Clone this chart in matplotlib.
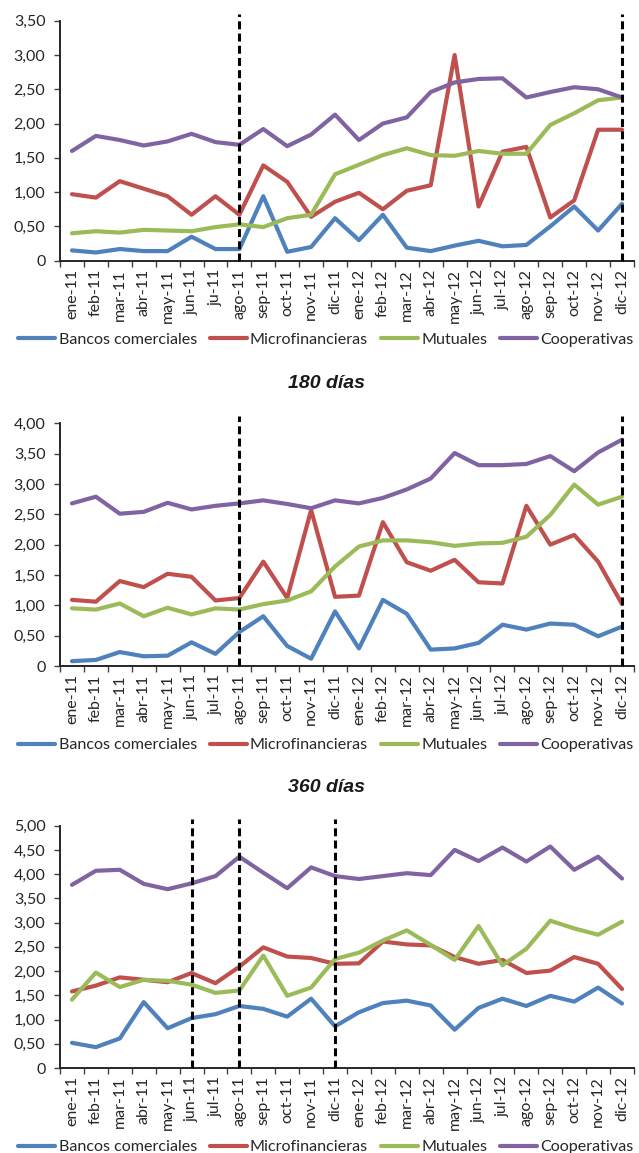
import matplotlib
matplotlib.use("Agg")
import matplotlib.pyplot as plt
import numpy as np
from matplotlib.ticker import FixedLocator, FuncFormatter

# ---------------- data ----------------
months = ['ene-11', 'feb-11', 'mar-11', 'abr-11', 'may-11', 'jun-11', 'jul-11',
          'ago-11', 'sep-11', 'oct-11', 'nov-11', 'dic-11', 'ene-12', 'feb-12',
          'mar-12', 'abr-12', 'may-12', 'jun-12', 'jul-12', 'ago-12', 'sep-12',
          'oct-12', 'nov-12', 'dic-12']
months_p1 = ['ene-11', 'feb-11', 'mar-11', 'abr-11', 'may-11', 'jun-11', 'ju-11',
             'ago-11', 'sep-11', 'oct-11', 'nov-11', 'dic-11', 'ene-12', 'feb-12',
             'mar-12', 'abr-12', 'may-12', 'jun-12', 'jul-12', 'ago-12', 'sep-12',
             'oct-12', 'nov-12', 'dic-12']
series_names = ['Bancos comerciales', 'Microfinancieras', 'Mutuales', 'Cooperativas']

bancos_1 = [0.15, 0.12, 0.17, 0.14, 0.14, 0.35, 0.17, 0.17, 0.94, 0.13, 0.20, 0.62,
            0.30, 0.67, 0.19, 0.14, 0.22, 0.29, 0.21, 0.23, 0.50, 0.79, 0.44, 0.83]
micro_1 = [0.97, 0.92, 1.16, 1.05, 0.94, 0.67, 0.94, 0.67, 1.39, 1.15, 0.64, 0.86,
           0.99, 0.75, 1.02, 1.10, 3.00, 0.79, 1.59, 1.66, 0.63, 0.88, 1.91, 1.91]
mutu_1 = [0.40, 0.43, 0.41, 0.45, 0.44, 0.43, 0.49, 0.53, 0.49, 0.62, 0.67, 1.26,
          1.40, 1.54, 1.64, 1.54, 1.53, 1.60, 1.56, 1.56, 1.98, 2.15, 2.34, 2.38]
coop_1 = [1.60, 1.82, 1.76, 1.68, 1.74, 1.85, 1.73, 1.69, 1.92, 1.67, 1.84, 2.13,
          1.76, 2.00, 2.09, 2.46, 2.60, 2.65, 2.66, 2.38, 2.46, 2.53, 2.50, 2.38]

bancos_2 = [0.08, 0.10, 0.23, 0.16, 0.17, 0.39, 0.20, 0.56, 0.82, 0.33, 0.12, 0.90,
            0.29, 1.09, 0.86, 0.27, 0.29, 0.38, 0.68, 0.60, 0.70, 0.68, 0.49, 0.65]
micro_2 = [1.09, 1.06, 1.40, 1.30, 1.52, 1.47, 1.08, 1.12, 1.72, 1.12, 2.57, 1.14,
           1.16, 2.37, 1.71, 1.57, 1.75, 1.38, 1.36, 2.64, 2.00, 2.16, 1.72, 1.02]
mutu_2 = [0.95, 0.93, 1.03, 0.82, 0.96, 0.85, 0.95, 0.93, 1.02, 1.08, 1.23, 1.64,
          1.97, 2.07, 2.07, 2.04, 1.98, 2.02, 2.03, 2.13, 2.49, 2.99, 2.66, 2.79]
coop_2 = [2.68, 2.79, 2.51, 2.54, 2.69, 2.58, 2.64, 2.68, 2.73, 2.67, 2.60, 2.73,
          2.68, 2.77, 2.91, 3.09, 3.51, 3.31, 3.31, 3.33, 3.46, 3.21, 3.52, 3.73]

bancos_3 = [0.52, 0.43, 0.61, 1.36, 0.82, 1.03, 1.11, 1.28, 1.22, 1.06, 1.43, 0.86,
            1.15, 1.34, 1.39, 1.29, 0.79, 1.24, 1.43, 1.28, 1.49, 1.37, 1.66, 1.33]
micro_3 = [1.58, 1.70, 1.87, 1.82, 1.77, 1.96, 1.75, 2.09, 2.49, 2.30, 2.27, 2.15,
           2.16, 2.61, 2.55, 2.53, 2.29, 2.15, 2.23, 1.96, 2.01, 2.29, 2.15, 1.63]
mutu_3 = [1.41, 1.97, 1.67, 1.82, 1.80, 1.72, 1.55, 1.60, 2.32, 1.49, 1.66, 2.25,
          2.38, 2.63, 2.84, 2.54, 2.23, 2.93, 2.12, 2.46, 3.04, 2.88, 2.75, 3.02]
coop_3 = [3.78, 4.07, 4.09, 3.80, 3.69, 3.81, 3.96, 4.36, 4.03, 3.71, 4.14, 3.96,
          3.90, 3.96, 4.02, 3.98, 4.50, 4.27, 4.55, 4.26, 4.57, 4.09, 4.36, 3.91]

titles = [None, '180 días', '360 días']
ymax_list = [3.5, 4.0, 5.0]
vlines_list = [['ago-11', 'dic-12'], ['ago-11', 'dic-12'], ['jun-11', 'ago-11', 'dic-11']]

# ---------------- style ----------------
colors = ['#4F81BD', '#C0504D', '#9BBB59', '#8064A2']
W, H = 639, 1153
fig = plt.figure(figsize=(W / 100, H / 100), dpi=100)
plt.rcParams['font.family'] = ['Lato', 'DejaVu Sans']

left_px, right_px = 60, 634
panels_px = [(20.7, 260.7), (423.3, 666.0), (825.7, 1068.0)]
title_y_px = [None, 384, 788]
tick_color = '#262626'

panel_data = [
    [bancos_1, micro_1, mutu_1, coop_1],
    [bancos_2, micro_2, mutu_2, coop_2],
    [bancos_3, micro_3, mutu_3, coop_3],
]
panel_labels = [months_p1, months, months]

def fmt(v, pos):
    if abs(v) < 1e-9:
        return '0'
    return ('%.2f' % v).replace('.', ',')

for i, (top, bot) in enumerate(panels_px):
    ax = fig.add_axes([left_px / W, 1 - bot / H, (right_px - left_px) / W, (bot - top) / H])
    x = np.arange(len(months))
    for data, c, name in zip(panel_data[i], colors, series_names):
        ax.plot(x, data, color=c, lw=3.0, solid_joinstyle='round',
                solid_capstyle='round', label=name, zorder=3)
    ax.set_xlim(-0.5, len(months) - 0.5)
    ax.set_ylim(0, ymax_list[i])
    ax.set_yticks(np.arange(0, ymax_list[i] + 0.001, 0.5))
    ax.yaxis.set_major_formatter(FuncFormatter(fmt))
    ax.set_xticks(x)
    ax.set_xticklabels(panel_labels[i], rotation=90, fontsize=11.5, color=tick_color)
    ax.xaxis.set_minor_locator(FixedLocator(np.arange(-0.5, len(months), 1.0)))
    ax.tick_params(axis='x', which='major', length=0, pad=6)
    ax.tick_params(axis='x', which='minor', length=4.5, width=1.0, color='#404040')
    ax.tick_params(axis='y', which='major', length=4.5, width=1.0, color='#404040',
                   labelsize=11.5, labelcolor=tick_color, pad=6)
    for s in ['top', 'right']:
        ax.spines[s].set_visible(False)
    for s in ['left', 'bottom']:
        ax.spines[s].set_color('#262626')
        ax.spines[s].set_linewidth(1.4)
    ax.spines['bottom'].set_zorder(5)

    ext = 7 / (bot - top)
    for m in vlines_list[i]:
        ax.axvline(months.index(m), ymin=0, ymax=1 + ext, color='black', lw=2.2,
                   linestyle=(0, (2.6, 1.4)), clip_on=False, zorder=6)

    if titles[i]:
        fig.text(326 / W, 1 - title_y_px[i] / H, titles[i], ha='center', va='center',
                 fontsize=14, fontweight='bold', fontstyle='italic',
                 family=['Liberation Sans', 'DejaVu Sans'], color='#1a1a1a')

    leg_y = bot + 79
    ax.legend(loc='center', bbox_to_anchor=(326 / W, 1 - leg_y / H),
              bbox_transform=fig.transFigure, ncol=4, frameon=False,
              fontsize=11.6, handlelength=2.3, handletextpad=0.2,
              columnspacing=0.8, borderpad=0, labelcolor=tick_color)

fig.savefig('out.png', dpi=100)
